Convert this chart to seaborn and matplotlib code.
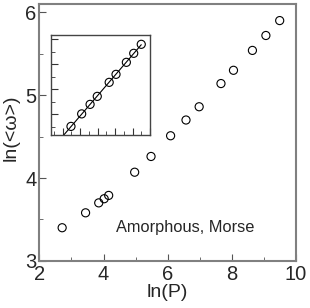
import numpy as np
import pandas as pd
import seaborn as sns
import matplotlib.pyplot as plt
from matplotlib.ticker import MultipleLocator, NullFormatter

# ln(P) and ln(<omega>)
ln_p = [2.71, 3.44, 3.85, 4.02, 4.16, 4.97, 5.48, 6.09, 6.57, 6.98, 7.66, 8.05, 8.64, 9.06, 9.49]
ln_w = [3.40, 3.58, 3.70, 3.75, 3.79, 4.07, 4.26, 4.51, 4.70, 4.86, 5.14, 5.30, 5.54, 5.72, 5.90]
inset_start = 6  # inset shows the high-P points with a linear fit

sns.set_style("ticks")
plt.rcParams["font.family"] = ["Liberation Sans", "DejaVu Sans"]

data = pd.DataFrame({"ln_p": ln_p, "ln_w": ln_w})
inset = data.iloc[inset_start:]

fig = plt.figure(figsize=(3.1, 3.08), dpi=100)
ax = fig.add_axes([0.127, 0.153, 0.828, 0.834])

sns.scatterplot(data=data, x="ln_p", y="ln_w", marker="o", s=34,
                facecolor="none", edgecolor="black", linewidth=0.8, ax=ax)
ax.set_xlim(2, 10)
ax.set_ylim(3, 6.1)
ax.xaxis.set_major_locator(MultipleLocator(2))
ax.xaxis.set_minor_locator(MultipleLocator(1))
ax.yaxis.set_major_locator(MultipleLocator(1))
ax.yaxis.set_minor_locator(MultipleLocator(0.5))
ax.tick_params(which="both", direction="in", labelsize=14.5, color="#555555")
ax.tick_params(axis="x", pad=3)
ax.tick_params(axis="y", pad=2)
ax.tick_params(which="major", length=5)
ax.tick_params(which="minor", length=3)
for sp in ax.spines.values():
    sp.set_visible(True)
    sp.set_color("#808080")
    sp.set_linewidth(1.5)
ax.set_xlabel("ln(P)", fontsize=14, labelpad=0)
ax.set_ylabel("ln(<ω>)", fontsize=14)
ax.yaxis.set_label_coords(-0.078, 0.52)
ax.text(6.55, 3.40, "Amorphous, Morse", fontsize=11.8, ha="center", va="center")

# inset
axi = fig.add_axes([0.1645, 0.562, 0.32, 0.325])
sns.scatterplot(data=inset, x="ln_p", y="ln_w", marker="o", s=34,
                facecolor="none", edgecolor="black", linewidth=0.8, ax=axi, zorder=3)
axi.set_xlim(4.34, 10.0)
axi.set_ylim(4.09, 6.09)
slope, icpt = np.polyfit(inset["ln_p"], inset["ln_w"], 1)
xs = np.array([4.34, inset["ln_p"].max()])
axi.plot(xs, slope * xs + icpt, color="black", linewidth=0.8)
axi.xaxis.set_major_locator(MultipleLocator(1))
axi.xaxis.set_minor_locator(MultipleLocator(0.5))
axi.yaxis.set_major_locator(MultipleLocator(0.5))
axi.yaxis.set_minor_locator(MultipleLocator(0.25))
axi.xaxis.set_major_formatter(NullFormatter())
axi.yaxis.set_major_formatter(NullFormatter())
axi.tick_params(which="both", direction="in", color="#333333")
axi.tick_params(which="major", length=5)
axi.tick_params(which="minor", length=3)
axi.set_xlabel("")
axi.set_ylabel("")
for sp in axi.spines.values():
    sp.set_visible(True)
    sp.set_color("#444444")
    sp.set_linewidth(1.0)

fig.savefig("out.png", dpi=100)
